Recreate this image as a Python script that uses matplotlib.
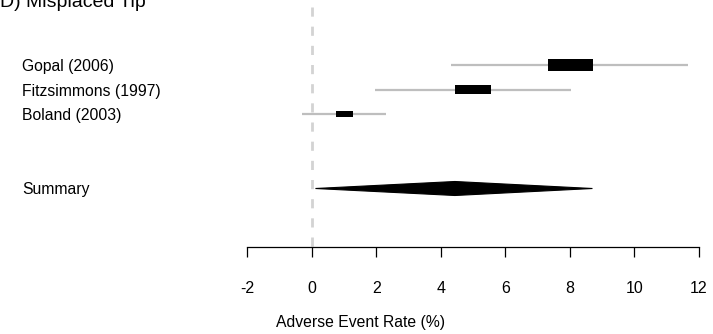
"""Forest plot: misplaced tip adverse event rates."""
import matplotlib

matplotlib.use("Agg")
import matplotlib.pyplot as plt
from matplotlib.patches import Polygon, Rectangle

plt.rcParams["font.family"] = ["Liberation Sans", "DejaVu Sans"]

# study data (adverse event rate, %)
studies = ["Gopal (2006)", "Fitzsimmons (1997)", "Boland (2003)"]
estimate = [8.03, 5.0, 1.02]
ci_low = [4.33, 1.98, -0.29]
ci_high = [11.66, 8.05, 2.32]
weight = [1.39, 1.11, 0.5]  # relative study weight -> box size

summary_label = "Summary"
summary_est = 4.44
summary_low = 0.12
summary_high = 8.70

xticks = [-2, 0, 2, 4, 6, 8, 10, 12]
title = "D) Misplaced Tip"
xlabel = "Adverse Event Rate (%)"

W, H = 713, 334
fig = plt.figure(figsize=(W / 100, H / 100), dpi=100)
ax = fig.add_axes([247 / W, 87 / H, 452 / W, 247 / H])

row_px = 24.7  # pixel height of one row
summary_row = 5
ylim_top = -65 / row_px
ylim_bot = (247 - 65) / row_px
ax.set_xlim(xticks[0], xticks[-1])
ax.set_ylim(ylim_bot, ylim_top)

# reference line at zero
dash_top = ylim_top + 7 / row_px
ax.plot([0, 0], [dash_top, ylim_bot], color="#d3d3d3", lw=2,
        linestyle=(0, (3.3, 3.6)), zorder=1)

# study rows: CI line and weighted box
for i, (lo, est, hi, w) in enumerate(zip(ci_low, estimate, ci_high, weight)):
    ax.plot([lo, hi], [i, i], color="#bebebe", lw=1.6, solid_capstyle="butt",
            zorder=2)
    h = (3 + 5.8 * w) / row_px
    ax.add_patch(Rectangle((est - w / 2, i - h / 2), w, h, facecolor="black",
                           edgecolor="none", zorder=3))

# summary diamond
dh = 7 / row_px
ax.add_patch(Polygon([(summary_low, summary_row), (summary_est, summary_row - dh),
                      (summary_high, summary_row), (summary_est, summary_row + dh)],
                     closed=True, facecolor="black", edgecolor="black", lw=0.8,
                     zorder=3))

# labels on the left
label_tf = matplotlib.transforms.blended_transform_factory(fig.transFigure, ax.transData)
for i, name in enumerate(studies):
    ax.text(22 / W, i + 0.06, name, transform=label_tf, ha="left", va="center",
            fontsize=11.3, clip_on=False)
ax.text(22 / W, summary_row + 0.06, summary_label, transform=label_tf, ha="left",
        va="center", fontsize=11.3, clip_on=False)

for side in ("top", "left", "right"):
    ax.spines[side].set_visible(False)
ax.spines["bottom"].set_linewidth(0.9)
ax.set_yticks([])
ax.set_xticks(xticks)
ax.set_xticklabels([str(t) for t in xticks])
ax.tick_params(axis="x", length=7.2, width=0.9, pad=17, labelsize=11.5)
ax.patch.set_alpha(0)

fig.text(0, 1 - 7 / H, title, ha="left", va="baseline", fontsize=14)
fig.text(360 / W, 1 - 323 / H, xlabel, ha="center", va="center", fontsize=11.3)

fig.savefig("out.png", dpi=100)
plt.close(fig)
